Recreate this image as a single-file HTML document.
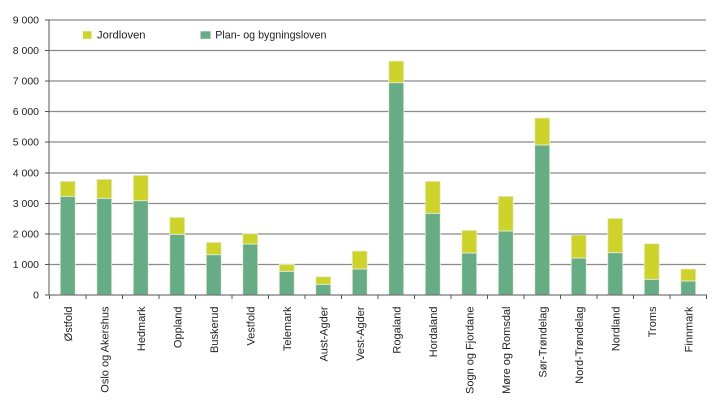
<!DOCTYPE html>
<html><head><meta charset="utf-8"><style>
html,body{margin:0;padding:0;background:#fff;}
svg{display:block;}
text{font-family:"Liberation Sans",Arial,sans-serif;fill:#222;}
</style></head><body>
<svg width="719" height="404" viewBox="0 0 719 404" xmlns="http://www.w3.org/2000/svg">
<g stroke="#8a8a8a" stroke-width="1.2">
<line x1="49" y1="20" x2="706" y2="20"/>
<line x1="49" y1="50.5" x2="706" y2="50.5"/>
<line x1="49" y1="81" x2="706" y2="81"/>
<line x1="49" y1="111.5" x2="706" y2="111.5"/>
<line x1="49" y1="142" x2="706" y2="142"/>
<line x1="49" y1="173" x2="706" y2="173"/>
<line x1="49" y1="203.5" x2="706" y2="203.5"/>
<line x1="49" y1="234" x2="706" y2="234"/>
<line x1="49" y1="264.5" x2="706" y2="264.5"/>
</g>
<g stroke="#e9eedb" stroke-width="0.8">
<rect x="60.25" y="196.3" width="15" height="98.7" fill="#66ad85"/><rect x="60.25" y="181.3" width="15" height="15" fill="#cdd328"/>
<rect x="96.75" y="198.3" width="15" height="96.7" fill="#66ad85"/><rect x="96.75" y="179.3" width="15" height="19" fill="#cdd328"/>
<rect x="133.25" y="200.7" width="15" height="94.3" fill="#66ad85"/><rect x="133.25" y="175.3" width="15" height="25.4" fill="#cdd328"/>
<rect x="169.75" y="234.3" width="15" height="60.7" fill="#66ad85"/><rect x="169.75" y="217.3" width="15" height="17" fill="#cdd328"/>
<rect x="206.25" y="254.7" width="15" height="40.3" fill="#66ad85"/><rect x="206.25" y="242.3" width="15" height="12.4" fill="#cdd328"/>
<rect x="242.75" y="244" width="15" height="51" fill="#66ad85"/><rect x="242.75" y="233.7" width="15" height="10.3" fill="#cdd328"/>
<rect x="279.25" y="271.3" width="15" height="23.7" fill="#66ad85"/><rect x="279.25" y="264.3" width="15" height="7" fill="#cdd328"/>
<rect x="315.75" y="284.3" width="15" height="10.7" fill="#66ad85"/><rect x="315.75" y="276.7" width="15" height="7.6" fill="#cdd328"/>
<rect x="352.25" y="269" width="15" height="26" fill="#66ad85"/><rect x="352.25" y="251" width="15" height="18" fill="#cdd328"/>
<rect x="388.75" y="82.7" width="15" height="212.3" fill="#66ad85"/><rect x="388.75" y="61" width="15" height="21.7" fill="#cdd328"/>
<rect x="425.25" y="213.3" width="15" height="81.7" fill="#66ad85"/><rect x="425.25" y="181.3" width="15" height="32" fill="#cdd328"/>
<rect x="461.75" y="253" width="15" height="42" fill="#66ad85"/><rect x="461.75" y="230.3" width="15" height="22.7" fill="#cdd328"/>
<rect x="498.25" y="231" width="15" height="64" fill="#66ad85"/><rect x="498.25" y="196.3" width="15" height="34.7" fill="#cdd328"/>
<rect x="534.75" y="145" width="15" height="150" fill="#66ad85"/><rect x="534.75" y="118" width="15" height="27" fill="#cdd328"/>
<rect x="571.25" y="258" width="15" height="37" fill="#66ad85"/><rect x="571.25" y="235" width="15" height="23" fill="#cdd328"/>
<rect x="607.75" y="252.7" width="15" height="42.3" fill="#66ad85"/><rect x="607.75" y="218.3" width="15" height="34.4" fill="#cdd328"/>
<rect x="644.25" y="279.3" width="15" height="15.7" fill="#66ad85"/><rect x="644.25" y="243.7" width="15" height="35.6" fill="#cdd328"/>
<rect x="680.75" y="281" width="15" height="14" fill="#66ad85"/><rect x="680.75" y="269" width="15" height="12" fill="#cdd328"/>
</g>
<g stroke="#555" stroke-width="1">
<line x1="49" y1="19.5" x2="49" y2="295.5"/>
<line x1="45" y1="20" x2="49" y2="20"/>
<line x1="45" y1="50.5" x2="49" y2="50.5"/>
<line x1="45" y1="81" x2="49" y2="81"/>
<line x1="45" y1="111.5" x2="49" y2="111.5"/>
<line x1="45" y1="142" x2="49" y2="142"/>
<line x1="45" y1="173" x2="49" y2="173"/>
<line x1="45" y1="203.5" x2="49" y2="203.5"/>
<line x1="45" y1="234" x2="49" y2="234"/>
<line x1="45" y1="264.5" x2="49" y2="264.5"/>
<line x1="45" y1="295" x2="49" y2="295"/>
</g>
<line x1="49" y1="295" x2="707" y2="295" stroke="#777" stroke-width="1.2"/>
<g stroke="#555" stroke-width="1">
<line x1="49.5" y1="295" x2="49.5" y2="299"/><line x1="86" y1="295" x2="86" y2="299"/><line x1="122.5" y1="295" x2="122.5" y2="299"/><line x1="159" y1="295" x2="159" y2="299"/><line x1="195.5" y1="295" x2="195.5" y2="299"/><line x1="232" y1="295" x2="232" y2="299"/><line x1="268.5" y1="295" x2="268.5" y2="299"/><line x1="305" y1="295" x2="305" y2="299"/><line x1="341.5" y1="295" x2="341.5" y2="299"/><line x1="378" y1="295" x2="378" y2="299"/><line x1="414.5" y1="295" x2="414.5" y2="299"/><line x1="451" y1="295" x2="451" y2="299"/><line x1="487.5" y1="295" x2="487.5" y2="299"/><line x1="524" y1="295" x2="524" y2="299"/><line x1="560.5" y1="295" x2="560.5" y2="299"/><line x1="597" y1="295" x2="597" y2="299"/><line x1="633.5" y1="295" x2="633.5" y2="299"/><line x1="670" y1="295" x2="670" y2="299"/><line x1="706.5" y1="295" x2="706.5" y2="299"/>
</g>
<g font-size="10.5" text-anchor="end">
<text x="39" y="23.7">9 000</text>
<text x="39" y="54.2">8 000</text>
<text x="39" y="84.7">7 000</text>
<text x="39" y="115.2">6 000</text>
<text x="39" y="145.7">5 000</text>
<text x="39" y="176.7">4 000</text>
<text x="39" y="207.2">3 000</text>
<text x="39" y="237.7">2 000</text>
<text x="39" y="268.2">1 000</text>
<text x="39" y="298.7">0</text>
</g>
<rect x="83" y="31.3" width="8.5" height="7.5" fill="#cdd328"/>
<text x="97" y="38.5" font-size="11.2">Jordloven</text>
<rect x="200.5" y="31.3" width="10" height="7.5" fill="#66ad85"/>
<text x="215.3" y="38.5" font-size="10.7">Plan- og bygningsloven</text>
<g font-size="11" text-anchor="end">
<text transform="translate(71.75,306.5) rotate(-90)">Østfold</text>
<text transform="translate(108.25,306.5) rotate(-90)">Oslo og Akershus</text>
<text transform="translate(144.75,306.5) rotate(-90)">Hedmark</text>
<text transform="translate(181.25,306.5) rotate(-90)">Oppland</text>
<text transform="translate(217.75,306.5) rotate(-90)">Buskerud</text>
<text transform="translate(254.25,306.5) rotate(-90)">Vestfold</text>
<text transform="translate(290.75,306.5) rotate(-90)">Telemark</text>
<text transform="translate(327.25,306.5) rotate(-90)">Aust-Agder</text>
<text transform="translate(363.75,306.5) rotate(-90)">Vest-Agder</text>
<text transform="translate(400.25,306.5) rotate(-90)">Rogaland</text>
<text transform="translate(436.75,306.5) rotate(-90)">Hordaland</text>
<text transform="translate(473.25,306.5) rotate(-90)">Sogn og Fjordane</text>
<text transform="translate(509.75,306.5) rotate(-90)">Møre og Romsdal</text>
<text transform="translate(546.25,306.5) rotate(-90)">Sør-Trøndelag</text>
<text transform="translate(582.75,306.5) rotate(-90)">Nord-Trøndelag</text>
<text transform="translate(619.25,306.5) rotate(-90)">Nordland</text>
<text transform="translate(655.75,306.5) rotate(-90)">Troms</text>
<text transform="translate(692.25,306.5) rotate(-90)">Finnmark</text>
</g>
</svg>
</body></html>
